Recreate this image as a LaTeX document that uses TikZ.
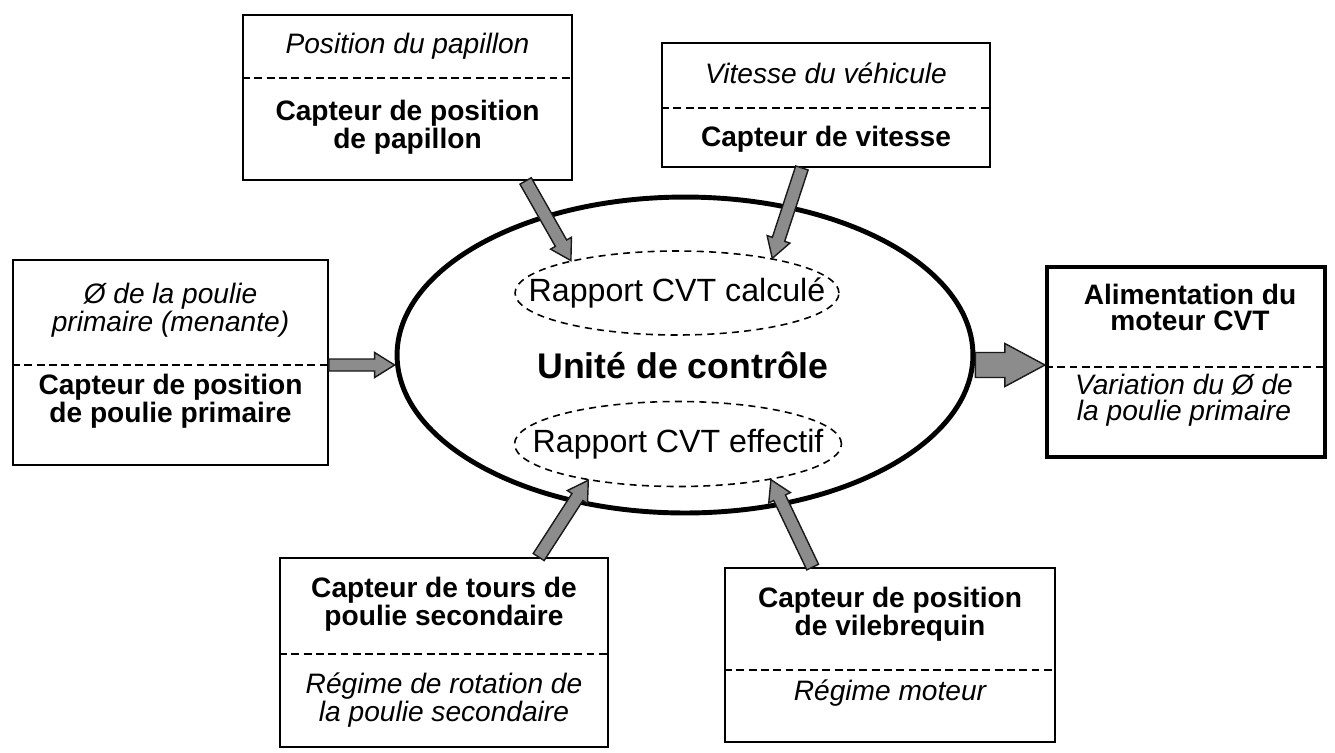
\documentclass[tikz,border=0pt]{standalone}
\usepackage{fontspec}
\setmainfont{Liberation Sans}
\usetikzlibrary{calc, shapes.geometric}

\tikzset{
  sensorbox/.style={draw, line width=1.1pt, inner sep=0pt},
  outbox/.style={sensorbox, line width=2.4pt},
  divider/.style={line width=0.9pt, dash pattern=on 4.5pt off 2.5pt},
  readtxt/.style={font=\fontsize{16}{14.8}\selectfont\itshape, align=center, inner sep=0pt},
  partxt/.style={font=\fontsize{16}{14.8}\selectfont\bfseries, align=center, inner sep=0pt},
  ratioell/.style={draw, ellipse, line width=0.9pt, dash pattern=on 4pt off 3pt, inner sep=0pt},
  ratiotxt/.style={font=\fontsize{18.3}{20}\selectfont, inner sep=0pt},
  flow/.style={fill=black!45, draw=black!90, line width=0.8pt, line join=miter},
}

\begin{document}
\begin{tikzpicture}[x=0.02cm, y=-0.02cm]
\useasboundingbox (0,0) rectangle (1335,752);

% --- MACRO: DRAW FLOW ARROW ---
% #1: start point
% #2: tip point
% #3: half width of the shaft
% #4: half width of the head
% #5: length of the head
\newcommand{\drawFlowArrow}[5]{
    \coordinate (fa-s) at (#1);
    \coordinate (fa-t) at (#2);
    \coordinate (fa-h) at ($(fa-t)!#5!(fa-s)$);
    \draw[flow] ($(fa-s)!#3!90:(fa-t)$)
        -- ($(fa-h)!#3!90:(fa-t)$)
        -- ($(fa-h)!#4!90:(fa-t)$)
        -- (fa-t)
        -- ($(fa-h)!#4!-90:(fa-t)$)
        -- ($(fa-h)!#3!-90:(fa-t)$)
        -- ($(fa-s)!#3!-90:(fa-t)$) -- cycle;
}

% --- CONTROL UNIT ---
\node[draw, ellipse, line width=2.8pt, minimum width=11.52cm, minimum height=6.32cm]
    (ctrl) at (685,355) {};
\node[ratioell, minimum width=6.48cm, minimum height=1.68cm] (ratiocalc) at (677,293) {};
\node[ratiotxt] (ratiocalc-t) at (ratiocalc) {Rapport CVT calculé};
\node[ratioell, minimum width=6.54cm, minimum height=1.7cm] (ratioeff) at (678,444) {};
\node[ratiotxt] (ratioeff-t) at (ratioeff) {Rapport CVT effectif};
\node[font=\fontsize{20.3}{24}\selectfont\bfseries, anchor=base]
    (unit) at (683,378) {Unité de contrôle};

% --- INPUT BOXES ---
% throttle
\node[sensorbox, minimum width=6.58cm, minimum height=3.3cm] (pap) at (407.5,97.5) {};
\draw[divider] (pap.west |- 0,78) -- (pap.east |- 0,78);
\node[readtxt] (pap-r) at (407.5,46) {Position du papillon};
\node[partxt] (pap-c) at (407.5,127) {Capteur de position\\de papillon};

% speed
\node[sensorbox, minimum width=6.56cm, minimum height=2.48cm] (vit) at (826,105) {};
\draw[divider] (vit.west |- 0,108) -- (vit.east |- 0,108);
\node[readtxt] (vit-r) at (826,73) {Vitesse du véhicule};
\node[partxt] (vit-c) at (826,139) {Capteur de vitesse};

% primary pulley
\node[sensorbox, minimum width=6.3cm, minimum height=4.1cm] (prim) at (170.5,362.5) {};
\draw[divider] (prim.west |- 0,365) -- (prim.east |- 0,365);
\node[readtxt] (prim-r) at (170.5,310) {Ø de la poulie\\primaire (menante)};
\node[partxt] (prim-c) at (170.5,401) {Capteur de position\\de poulie primaire};

% secondary pulley
\node[sensorbox, minimum width=6.56cm, minimum height=3.78cm] (sec) at (444,652.5) {};
\draw[divider] (sec.west |- 0,654) -- (sec.east |- 0,654);
\node[partxt] (sec-c) at (444,604) {Capteur de tours de\\poulie secondaire};
\node[readtxt] (sec-r) at (444,700) {Régime de rotation de\\la poulie secondaire};

% crankshaft
\node[sensorbox, minimum width=6.6cm, minimum height=3.48cm] (vil) at (890,655) {};
\draw[divider] (vil.west |- 0,670) -- (vil.east |- 0,670);
\node[partxt] (vil-c) at (890,614) {Capteur de position\\de vilebrequin};
\node[readtxt] (vil-r) at (890,693) {Régime moteur};

% --- OUTPUT BOX ---
\node[outbox, minimum width=5.56cm, minimum height=3.8cm] (out) at (1186,362) {};
\draw[divider] (out.west |- 0,367) -- (out.east |- 0,367);
\node[partxt] (out-c) at (1190,307) {Alimentation du\\moteur CVT};
\node[readtxt] (out-r) at (1184,400) {Variation du Ø de\\la poulie primaire};

% --- ARROWS ---
\drawFlowArrow{$(pap.south west)!0.857!(pap.south east)$}{ratiocalc.163}{0.13cm}{0.24cm}{0.4cm}
\drawFlowArrow{$(vit.south west)!0.427!(vit.south east)$}{ratiocalc.20}{0.13cm}{0.24cm}{0.4cm}
\drawFlowArrow{prim.east |- 0,365}{ctrl.west |- 0,365}{0.12cm}{0.25cm}{0.4cm}
\drawFlowArrow{ctrl.east |- 0,365}{out.west |- 0,365}{0.25cm}{0.43cm}{0.8cm}
\drawFlowArrow{$(sec.north west)!0.787!(sec.north east)$}{ratioeff.202}{0.13cm}{0.24cm}{0.4cm}
\drawFlowArrow{$(vil.north west)!0.267!(vil.north east)$}{ratioeff.339}{0.13cm}{0.24cm}{0.4cm}

\end{tikzpicture}
\end{document}
